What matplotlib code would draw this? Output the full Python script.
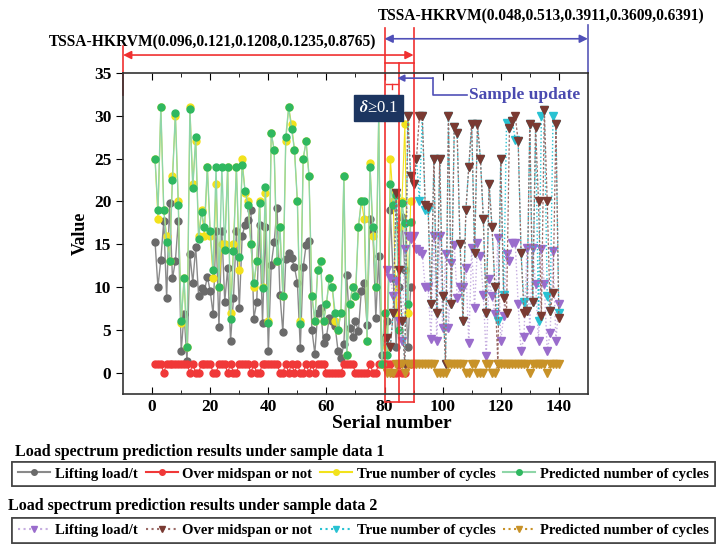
import matplotlib
matplotlib.use("Agg")
import matplotlib.pyplot as plt
from matplotlib.lines import Line2D
import numpy as np

plt.rcParams['font.family'] = 'Liberation Serif'
plt.rcParams['font.weight'] = 'bold'
plt.rcParams['mathtext.fontset'] = 'stix'

# sample data 1 (serial numbers 1..89)
s1_x = list(range(1, 90))
s1_load = [15.3, 10, 13.2, 17.7, 8.7, 19.8, 11, 13, 17.7, 2.5,
           6.8, 1.3, 13.8, 10.5, 14.7, 8.9, 9.9, 9.5, 11.2, 9.5,
           6.8, 16.5, 5.3, 16.5, 8.3, 12.2, 3.7, 8.7, 16.5, 7.5,
           16, 17.3, 17.8, 19, 6.3, 8.2, 17.3, 5.8, 17, 2.5,
           12.6, 15.2, 19.2, 9.1, 4.7, 13.3, 14, 13.4, 12.3, 10.5,
           2.9, 12.3, 14.9, 15.4, 5, 2.2, 7, 7.5, 3.5, 4.2,
           6.4, 6, 5.4, 2.5, 1.7, 3.3, 11.4, 5.2, 4.2, 6,
           4.8, 9.5, 10.5, 5.6, 18, 16.5, 6.4, 13.6, 2, 4,
           6, 19, 11, 3, 10, 18.2, 12, 3, 10]
s1_zero = [4, 13, 15, 16, 21, 22, 26, 28, 29, 34, 36, 37, 44, 45, 47, 49,
           51, 52, 54, 56, 60, 61, 62, 63, 64, 65, 70, 71, 72, 73, 74, 76,
           77, 83, 84, 86, 87]
s1_midspan = [0 if i in s1_zero else 1 for i in s1_x]
s1_true = [25, 18, 31, 19, 16, 13, 23, 30, 20, 5.8,
           11, 3, 31, 22, 27, 16, 19, 16, 24, 16,
           11, 22, 10, 15, 15, 24, 7, 15, 24, 12,
           25, 21, 20, 15, 10, 13, 20, 10, 21, 6,
           28, 26, 13, 17, 9, 27, 31, 29, 26, 20,
           6, 25, 27, 23, 9, 6, 12, 13, 6, 8,
           11, 10, 6, 5, 7, 23, 2, 8, 10, 9,
           17, 20, 18, 3.7, 24.5, 16, 10, 30, 1, 7,
           3, 25, 20, 7, 17, 20, 29, 7, 20]
s1_pred = [25, 19, 31, 19, 15.3, 13, 22.5, 30.3, 19.6, 6,
           11, 3, 30.8, 21.6, 27.5, 15.6, 18.8, 17, 24, 16.5,
           12, 24, 10, 24, 14.3, 24, 6.3, 14.2, 24, 13.5,
           24.3, 21.2, 19.6, 15, 10.5, 13, 19.8, 9.9, 21.7, 5.8,
           28, 26, 13, 17, 9, 27.5, 31, 28.5, 26, 20,
           5.7, 25, 27, 23, 9, 6, 12, 13, 6, 8,
           11, 10, 7, 5, 7, 23, 2, 8, 10, 9,
           17, 20, 20, 3.7, 24, 17, 10, 30, 1, 7,
           2, 22, 19.6, 20.8, 5, 19.8, 17.5, 8, 17.6]

# sample data 2 (serial numbers 81..140)
s2_x = list(range(81, 141))
s2_load = [12, 11, 9, 10.7, 6, 3.7, 14.4, 15.9, 15.6, 15.9,
           14.4, 14.2, 13.8, 10, 10, 3.9, 15.9, 3.7, 15.9, 5.2,
           13.8, 5.2, 12.8, 14.9, 8.7, 10, 10, 12.2, 3.5, 14.5,
           7.5, 15.1, 13.6, 9.1, 1.9, 10.9, 8.9, 6.8, 15.7, 3.7,
           6.6, 13.8, 13, 15.1, 15.1, 8, 2.5, 4.2, 14.5, 5,
           14.5, 10.3, 3.7, 14.4, 10.3, 2.5, 4.6, 14.2, 3.7, 8]
s2_zero = [81, 82, 83, 87, 98, 99, 100, 101, 108, 109, 112, 113, 114,
           117, 118, 130, 136]
s2_midspan = [0 if i in s2_zero else 1 for i in s2_x]
s2_pred = [4, 3, 7, 21, 12, 6, 1, 30, 23, 22,
           25, 30, 30, 19.6, 19.4, 8, 25, 7, 25, 9,
           1, 30, 8, 28.7, 28, 15, 6, 19, 24, 29,
           14, 29, 25, 18, 7, 22, 17, 10, 1, 25,
           8.7, 7, 28.6, 29.4, 30, 27, 14, 7, 7.2, 29,
           8.3, 28.7, 20, 6.6, 30.7, 20, 7.2, 9.3, 29, 6.4]
s2_true = [4, 3, 7, 21, 12, 6, 1, 30, 23, 22,
           25, 20, 30, 19, 19, 8, 25, 7, 25, 9,
           1, 30, 8, 28.7, 28, 15, 6, 19, 24, 29,
           14, 29, 25, 18, 7, 22, 17, 10, 6, 25,
           9.1, 29.2, 28.6, 29.4, 27.2, 27, 14, 8.2, 7.2, 29,
           8.3, 28.7, 6, 30, 30.7, 9, 7.2, 30, 29, 7]

fig = plt.figure(figsize=(7.24, 5.56), dpi=100)
ax = fig.add_axes([0.170, 0.2914, 0.642, 0.5773])

c_grey = '#6a6a6a'
c_red = '#f03838'
c_yel = '#f2e21c'
c_grn = '#2fb860'
c_pur = '#9a6ccc'
c_brn = '#7a3a32'
c_cyn = '#28c2d2'
c_gld = '#c89228'

ax.plot(s1_x, s1_load, '-', color='#8a8a8a', lw=1, marker='o', ms=5,
        mfc=c_grey, mec=c_grey)
ax.plot(s1_x, s1_midspan, '-', color=c_red, lw=0.8, marker='o', ms=5,
        mfc=c_red, mec=c_red)
ax.plot(s1_x, s1_true, '-', color=c_yel, lw=0.8, marker='o', ms=5,
        mfc=c_yel, mec=c_yel)
ax.plot(s1_x, s1_pred, '-', color='#8fd6a8', lw=1, marker='o', ms=5,
        mfc=c_grn, mec=c_grn)

ax.plot(s2_x, s2_load, ':', color='#c6aee0', lw=1, marker='v', ms=6,
        mfc=c_pur, mec=c_pur)
ax.plot(s2_x, s2_true, ':', color=c_cyn, lw=1, marker='v', ms=6,
        mfc=c_cyn, mec=c_cyn)
ax.plot(s2_x, s2_pred, '--', color='#9a6a66', lw=0.9, marker='v', ms=6,
        mfc=c_brn, mec=c_brn, dashes=(2, 1.5))
ax.plot(s2_x, s2_midspan, ':', color=c_gld, lw=1, marker='v', ms=6,
        mfc=c_gld, mec=c_gld)

ax.set_xlim(-10, 150)
ax.set_ylim(-2.5, 35)
ax.set_xticks(np.arange(0, 141, 20))
ax.set_xticks(np.arange(10, 141, 20), minor=True)
ax.set_yticks(np.arange(0, 36, 5))
ax.tick_params(axis='x', which='both', direction='in', top=True, labelsize=12.5)
ax.tick_params(axis='x', which='major', length=5)
ax.tick_params(axis='x', which='minor', length=3)
ax.tick_params(axis='y', direction='out', length=5, labelsize=12.5)
for sp in ax.spines.values():
    sp.set_linewidth(1.2)
    sp.set_color('#333333')

ax.set_ylabel('Value', fontsize=13, fontweight='bold')
fig.text(0.541, 0.238, 'Serial number', fontsize=14, fontweight='bold',
         ha='center', va='center')

# model segments above the plot
kw = dict(clip_on=False, transform=ax.transData)
ax.plot([80, 80], [-3.4, 40.2], color='#f03030', lw=1.2, **kw)
ax.plot([90, 90], [-3.4, 40.2], color='#f03030', lw=1.2, **kw)
ax.plot([85, 85], [-3.4, 36.2], color='#f03030', lw=1.2, **kw)
ax.plot([80, 90], [36.2, 36.2], color='#f03030', lw=1.2, **kw)
ax.plot([80, 90], [-3.4, -3.4], color='#f03030', lw=1.2, **kw)
ax.plot([80.5, 84.5], [33.7, 33.7], color='#f03030', lw=1, **kw)
ax.plot([82.5, 82.5], [33.7, 33.1], color='#f03030', lw=1, **kw)
ax.plot([-10, -10], [32.4, 38.1], color='#f03030', lw=1.2, **kw)
ax.plot([150, 150], [35, 40.6], color='#5858b8', lw=1.2, **kw)

ax.annotate('', xy=(-10, 37.1), xytext=(90, 37.1), annotation_clip=False,
            arrowprops=dict(arrowstyle='<|-|>', color='#f03030', lw=1.2,
                            mutation_scale=12, shrinkA=0, shrinkB=0))
ax.annotate('', xy=(80, 39), xytext=(150, 39), annotation_clip=False,
            arrowprops=dict(arrowstyle='<|-|>', color='#5050b8', lw=1.2,
                            mutation_scale=12, shrinkA=0, shrinkB=0))
fig.text(0.748, 0.971, 'TSSA-HKRVM(0.048,0.513,0.3911,0.3609,0.6391)',
         fontsize=11.2, fontweight='bold', ha='center', va='center')
fig.text(0.294, 0.924, 'TSSA-HKRVM(0.096,0.121,0.1208,0.1235,0.8765)',
         fontsize=11.2, fontweight='bold', ha='center', va='center')

# sample update pointer
ax.plot([96.6, 96.6, 108.5], [34.4, 32.4, 32.4], color='#5050b8', lw=1.2, **kw)
ax.annotate('', xy=(84.4, 34.4), xytext=(96.6, 34.4), annotation_clip=False,
            arrowprops=dict(arrowstyle='-|>', color='#5050b8', lw=1.2,
                            mutation_scale=10, shrinkA=0, shrinkB=0))
ax.text(109, 32.4, 'Sample update', color='#4a4ab0', fontsize=12.5,
        fontweight='bold', va='center', ha='left', clip_on=False)

ax.text(78, 30.9, r'$\delta$≥0.1', color='white', fontsize=12,
        fontweight='normal', ha='center', va='center', clip_on=False,
        bbox=dict(boxstyle='square,pad=0.3', fc='#1c3560', ec='#1c3560'))

# legends
h1 = [Line2D([], [], color='#8a8a8a', marker='o', ms=4, mfc=c_grey, mec=c_grey),
      Line2D([], [], color=c_red, marker='o', ms=4, mfc=c_red, mec=c_red),
      Line2D([], [], color=c_yel, marker='o', ms=4, mfc=c_yel, mec=c_yel),
      Line2D([], [], color='#8fd6a8', marker='o', ms=4, mfc=c_grn, mec=c_grn)]
l1 = ['Lifting load/t', 'Over midspan or not', 'True number of cycles',
      'Predicted number of cycles']
h2 = [Line2D([], [], color='#c6aee0', ls=':', marker='v', ms=5, mfc=c_pur, mec=c_pur),
      Line2D([], [], color='#9a6a66', ls=':', marker='v', ms=5, mfc=c_brn, mec=c_brn),
      Line2D([], [], color=c_cyn, ls=':', marker='v', ms=5, mfc=c_cyn, mec=c_cyn),
      Line2D([], [], color=c_gld, ls=':', marker='v', ms=5, mfc=c_gld, mec=c_gld)]

fig.text(0.021, 0.187, 'Load spectrum prediction results under sample data 1',
         fontsize=11.5, fontweight='bold', va='center')
fig.text(0.011, 0.090, 'Load spectrum prediction results under sample data 2',
         fontsize=11.5, fontweight='bold', va='center')

for handles, y0 in ((h1, 0.112), (h2, 0.011)):
    leg = fig.legend(handles, l1, loc='lower left', ncol=4, mode='expand',
                     bbox_to_anchor=(0.007, y0, 0.990, 0.050),
                     prop={'size': 10.5, 'weight': 'bold'}, handlelength=2.2,
                     handletextpad=0.3, columnspacing=0.4, borderpad=0.4,
                     fancybox=False, framealpha=1, edgecolor='#444444')
    leg.get_frame().set_linewidth(1.2)
    fig.add_artist(leg)

fig.savefig('out.png', dpi=100)
